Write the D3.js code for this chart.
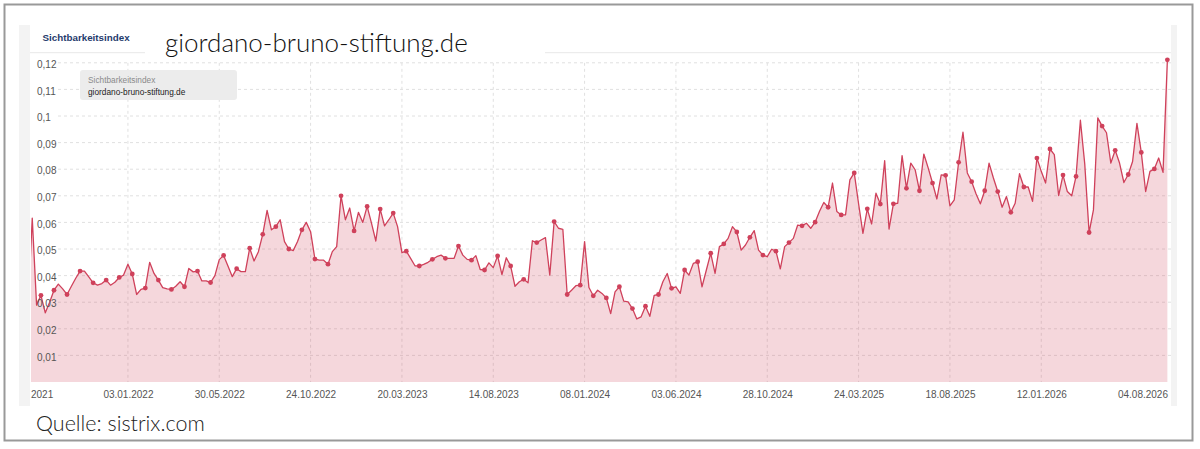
<!DOCTYPE html>
<html>
<head>
<meta charset="utf-8">
<script src="https://cdn.jsdelivr.net/npm/d3@7"></script>
<style>
  body { margin: 0; background: #fff; }
</style>
</head>
<body>
<svg id="chart" width="1200" height="449"></svg>
<script>
// weekly Sichtbarkeitsindex, first week 26.07.2021
var firstWeek = "26.07.2021";
var values = [
  0.027, 0.0616, 0.0289, 0.0326, 0.026, 0.030, 0.0345, 0.0368, 0.035, 0.0329, 0.036, 0.039,
  0.0417, 0.0417, 0.0395, 0.0373, 0.0364, 0.037, 0.0383, 0.0364, 0.0375, 0.0393, 0.0402, 0.0443,
  0.0406, 0.0329, 0.0348, 0.0353, 0.045, 0.0408, 0.0383, 0.0355, 0.035, 0.0348, 0.036, 0.0377,
  0.0358, 0.0427, 0.0414, 0.0417, 0.038, 0.038, 0.0374, 0.040, 0.046, 0.0476, 0.0436, 0.0396,
  0.0426, 0.0415, 0.0415, 0.0503, 0.0455, 0.049, 0.0555, 0.0645, 0.0572, 0.0584, 0.061, 0.0528,
  0.050, 0.0494, 0.0528, 0.0572, 0.060, 0.0565, 0.0462, 0.0458, 0.0458, 0.0443, 0.049, 0.0509,
  0.070, 0.061, 0.0654, 0.0568, 0.0638, 0.060, 0.066, 0.0597, 0.053, 0.065, 0.0587, 0.061,
  0.0635, 0.0584, 0.0486, 0.0492, 0.0465, 0.0437, 0.0436, 0.0442, 0.045, 0.0461, 0.0471, 0.0477,
  0.0465, 0.0465, 0.0465, 0.0511, 0.0477, 0.0461, 0.0458, 0.0475, 0.0423, 0.0421, 0.0448, 0.043,
  0.0474, 0.0404, 0.0467, 0.0436, 0.036, 0.0377, 0.0386, 0.0373, 0.0531, 0.0524, 0.0534, 0.0543,
  0.0402, 0.0603, 0.0578, 0.0574, 0.0329, 0.0345, 0.0362, 0.0364, 0.0528, 0.0355, 0.0324, 0.0345,
  0.0333, 0.0316, 0.0257, 0.0339, 0.0358, 0.0304, 0.0301, 0.0276, 0.0237, 0.0245, 0.0285, 0.0247,
  0.0326, 0.0329, 0.0377, 0.0408, 0.0352, 0.0358, 0.0333, 0.0421, 0.0402, 0.0446, 0.0452, 0.0358,
  0.0421, 0.0484, 0.0408, 0.0509, 0.0519, 0.054, 0.0584, 0.0564, 0.0496, 0.0515, 0.0544, 0.0569,
  0.0496, 0.0477, 0.0471, 0.0499, 0.0492, 0.0425, 0.0509, 0.0524, 0.054, 0.059, 0.0587, 0.0597,
  0.0578, 0.0601, 0.0641, 0.0675, 0.0657, 0.0748, 0.0641, 0.0628, 0.0628, 0.076, 0.0786, 0.067,
  0.0559, 0.0651, 0.0594, 0.071, 0.0669, 0.0832, 0.0575, 0.067, 0.0672, 0.0851, 0.0728, 0.0823,
  0.0798, 0.0719, 0.0857, 0.0805, 0.0748, 0.0688, 0.0779, 0.0777, 0.0662, 0.0685, 0.0826, 0.0939,
  0.0786, 0.0753, 0.0708, 0.067, 0.0719, 0.0823, 0.0767, 0.0716, 0.0657, 0.0697, 0.0638, 0.0672,
  0.0783, 0.0733, 0.0733, 0.0679, 0.0842, 0.0792, 0.0748, 0.0876, 0.0855, 0.0701, 0.0778, 0.0716,
  0.070, 0.0773, 0.0984, 0.082, 0.0562, 0.0647, 0.0993, 0.0962, 0.0937, 0.0823, 0.0871, 0.0823,
  0.075, 0.078, 0.0829, 0.0972, 0.0863, 0.0716, 0.0792, 0.0801, 0.0842, 0.0788, 0.1211
];
// weeks that carry a dot: every third week inside these runs
var markerRuns = [[3, 117], [121, 262]];
var yTicks = [0.01, 0.02, 0.03, 0.04, 0.05, 0.06, 0.07, 0.08, 0.09, 0.1, 0.11, 0.12];
var xTicks = ["03.01.2022", "30.05.2022", "24.10.2022", "20.03.2023", "14.08.2023", "08.01.2024",
  "03.06.2024", "28.10.2024", "24.03.2025", "18.08.2025", "12.01.2026"];
var xStart = "31.07.2021", xEnd = "04.08.2026";
var startLabel = "2021";

var parse = d3.timeParse("%d.%m.%Y"),
  fmtDate = d3.timeFormat("%d.%m.%Y"),
  de = d3.formatLocale({decimal: ",", thousands: ".", grouping: [3], currency: ["", " €"]}),
  fmtY = de.format(".2~f");

var t0 = parse(firstWeek);
var data = values.map(function (v, i) {
  return {date: d3.timeDay.offset(t0, 7 * i), value: v, i: i};
});
var marked = data.filter(function (d) {
  return markerRuns.some(function (r) {
    return d.i >= r[0] && d.i <= r[1] && (d.i - r[0]) % 3 === 0;
  });
});

var COLOR = "#cf415b";
var SMALL = "10px 'Liberation Sans', Arial, sans-serif";

var vis = d3.select("#chart"),
  xScale = d3.scaleTime()
    .domain([parse(xStart), parse(xEnd)])
    .range([31, 1168]),
  yScale = d3.scaleLinear()
    .domain([0, 0.12])
    .range([382, 62.8]);

// widget frame
vis.append("rect").attr("x", 19).attr("y", 25).attr("width", 11).attr("height", 381).attr("fill", "#f3f3f3");
vis.append("rect").attr("x", 1171).attr("y", 25).attr("width", 6).attr("height", 381).attr("fill", "#f3f3f3");
vis.append("line")
  .attr("x1", 30).attr("x2", 1171).attr("y1", 52.7).attr("y2", 52.7)
  .attr("stroke", "#e8e8e8").attr("stroke-width", 1);

// grid
var grid = vis.append("g").attr("stroke", "#e0e0e0").attr("stroke-dasharray", "3,3").attr("stroke-width", 1);
grid.selectAll(".hg").data(yTicks).enter().append("line")
  .attr("x1", 58).attr("x2", 1171)
  .attr("y1", function (d) { return yScale(d); })
  .attr("y2", function (d) { return yScale(d); });
grid.selectAll(".vg").data(xTicks).enter().append("line")
  .attr("x1", function (d) { return xScale(parse(d)); })
  .attr("x2", function (d) { return xScale(parse(d)); })
  .attr("y1", yScale(0.12)).attr("y2", yScale(0));

vis.append("clipPath").attr("id", "plotclip")
  .append("rect").attr("x", 31).attr("y", 0).attr("width", 1142).attr("height", 383);

var plot = vis.append("g").attr("clip-path", "url(#plotclip)");

var areaGen = d3.area()
  .x(function (d) { return xScale(d.date); })
  .y0(yScale(0))
  .y1(function (d) { return yScale(d.value); });

var lineGen = d3.line()
  .x(function (d) { return xScale(d.date); })
  .y(function (d) { return yScale(d.value); });

plot.append("path")
  .attr("d", areaGen(data))
  .attr("fill", COLOR)
  .attr("fill-opacity", 0.21);

plot.append("path")
  .attr("d", lineGen(data))
  .attr("fill", "none")
  .attr("stroke", COLOR)
  .attr("stroke-width", 1.3)
  .attr("stroke-linejoin", "round");

plot.selectAll(".dot").data(marked).enter().append("circle")
  .attr("cx", function (d) { return xScale(d.date); })
  .attr("cy", function (d) { return yScale(d.value); })
  .attr("r", 2.4)
  .attr("fill", COLOR);

// axes
var yAxis = d3.axisRight(yScale)
  .tickValues(yTicks)
  .tickFormat(fmtY)
  .tickSize(0)
  .tickPadding(0);

var gy = vis.append("g")
  .attr("transform", "translate(37,1.4)")
  .call(yAxis);
gy.select(".domain").remove();
gy.selectAll("text").attr("fill", "#555").style("font", SMALL);

var xAxis = d3.axisBottom(xScale)
  .tickValues(xTicks.map(parse))
  .tickFormat(fmtDate)
  .tickSize(0)
  .tickPadding(9);

var gx = vis.append("g")
  .attr("transform", "translate(0," + yScale(0) + ")")
  .call(xAxis);
gx.select(".domain").remove();
gx.selectAll("text").attr("fill", "#555").style("font", SMALL);

vis.append("text")
  .attr("x", 31).attr("y", 398)
  .attr("fill", "#555")
  .style("font", SMALL)
  .text(startLabel);
vis.append("text")
  .attr("x", xScale(parse(xEnd))).attr("y", 398)
  .attr("text-anchor", "end")
  .attr("fill", "#555")
  .style("font", SMALL)
  .text(xEnd);

// tooltip-like legend box
vis.append("rect")
  .attr("x", 80).attr("y", 70).attr("width", 157).attr("height", 30)
  .attr("rx", 3).attr("fill", "#ececec");
vis.append("text")
  .attr("x", 88).attr("y", 82.5)
  .attr("fill", "#8a8a8a")
  .style("font", "8.3px 'Liberation Sans', Arial, sans-serif")
  .text("Sichtbarkeitsindex");
vis.append("text")
  .attr("x", 88).attr("y", 94.5)
  .attr("fill", "#222")
  .style("font", "8.3px 'Liberation Sans', Arial, sans-serif")
  .text("giordano-bruno-stiftung.de");

// header
vis.append("text")
  .attr("x", 42.5).attr("y", 41)
  .attr("fill", "#1f3b6d")
  .style("font", "bold 9.8px 'Liberation Sans', Arial, sans-serif")
  .text("Sichtbarkeitsindex");

vis.append("rect")
  .attr("x", 145).attr("y", 18).attr("width", 400).attr("height", 39)
  .attr("fill", "#fff");
vis.append("text")
  .attr("x", 165).attr("y", 52)
  .attr("fill", "#111")
  .style("font", "300 26px Lato, 'Open Sans', sans-serif")
  .text("giordano-bruno-stiftung.de");

vis.append("text")
  .attr("x", 36).attr("y", 430.5)
  .attr("fill", "#222")
  .style("font", "300 21.5px Lato, 'Open Sans', sans-serif")
  .text("Quelle: sistrix.com");

// outer frame
vis.append("rect")
  .attr("x", 4.5).attr("y", 4.5).attr("width", 1188).attr("height", 436)
  .attr("fill", "none").attr("stroke", "#999").attr("stroke-width", 2);
</script>
</body>
</html>
